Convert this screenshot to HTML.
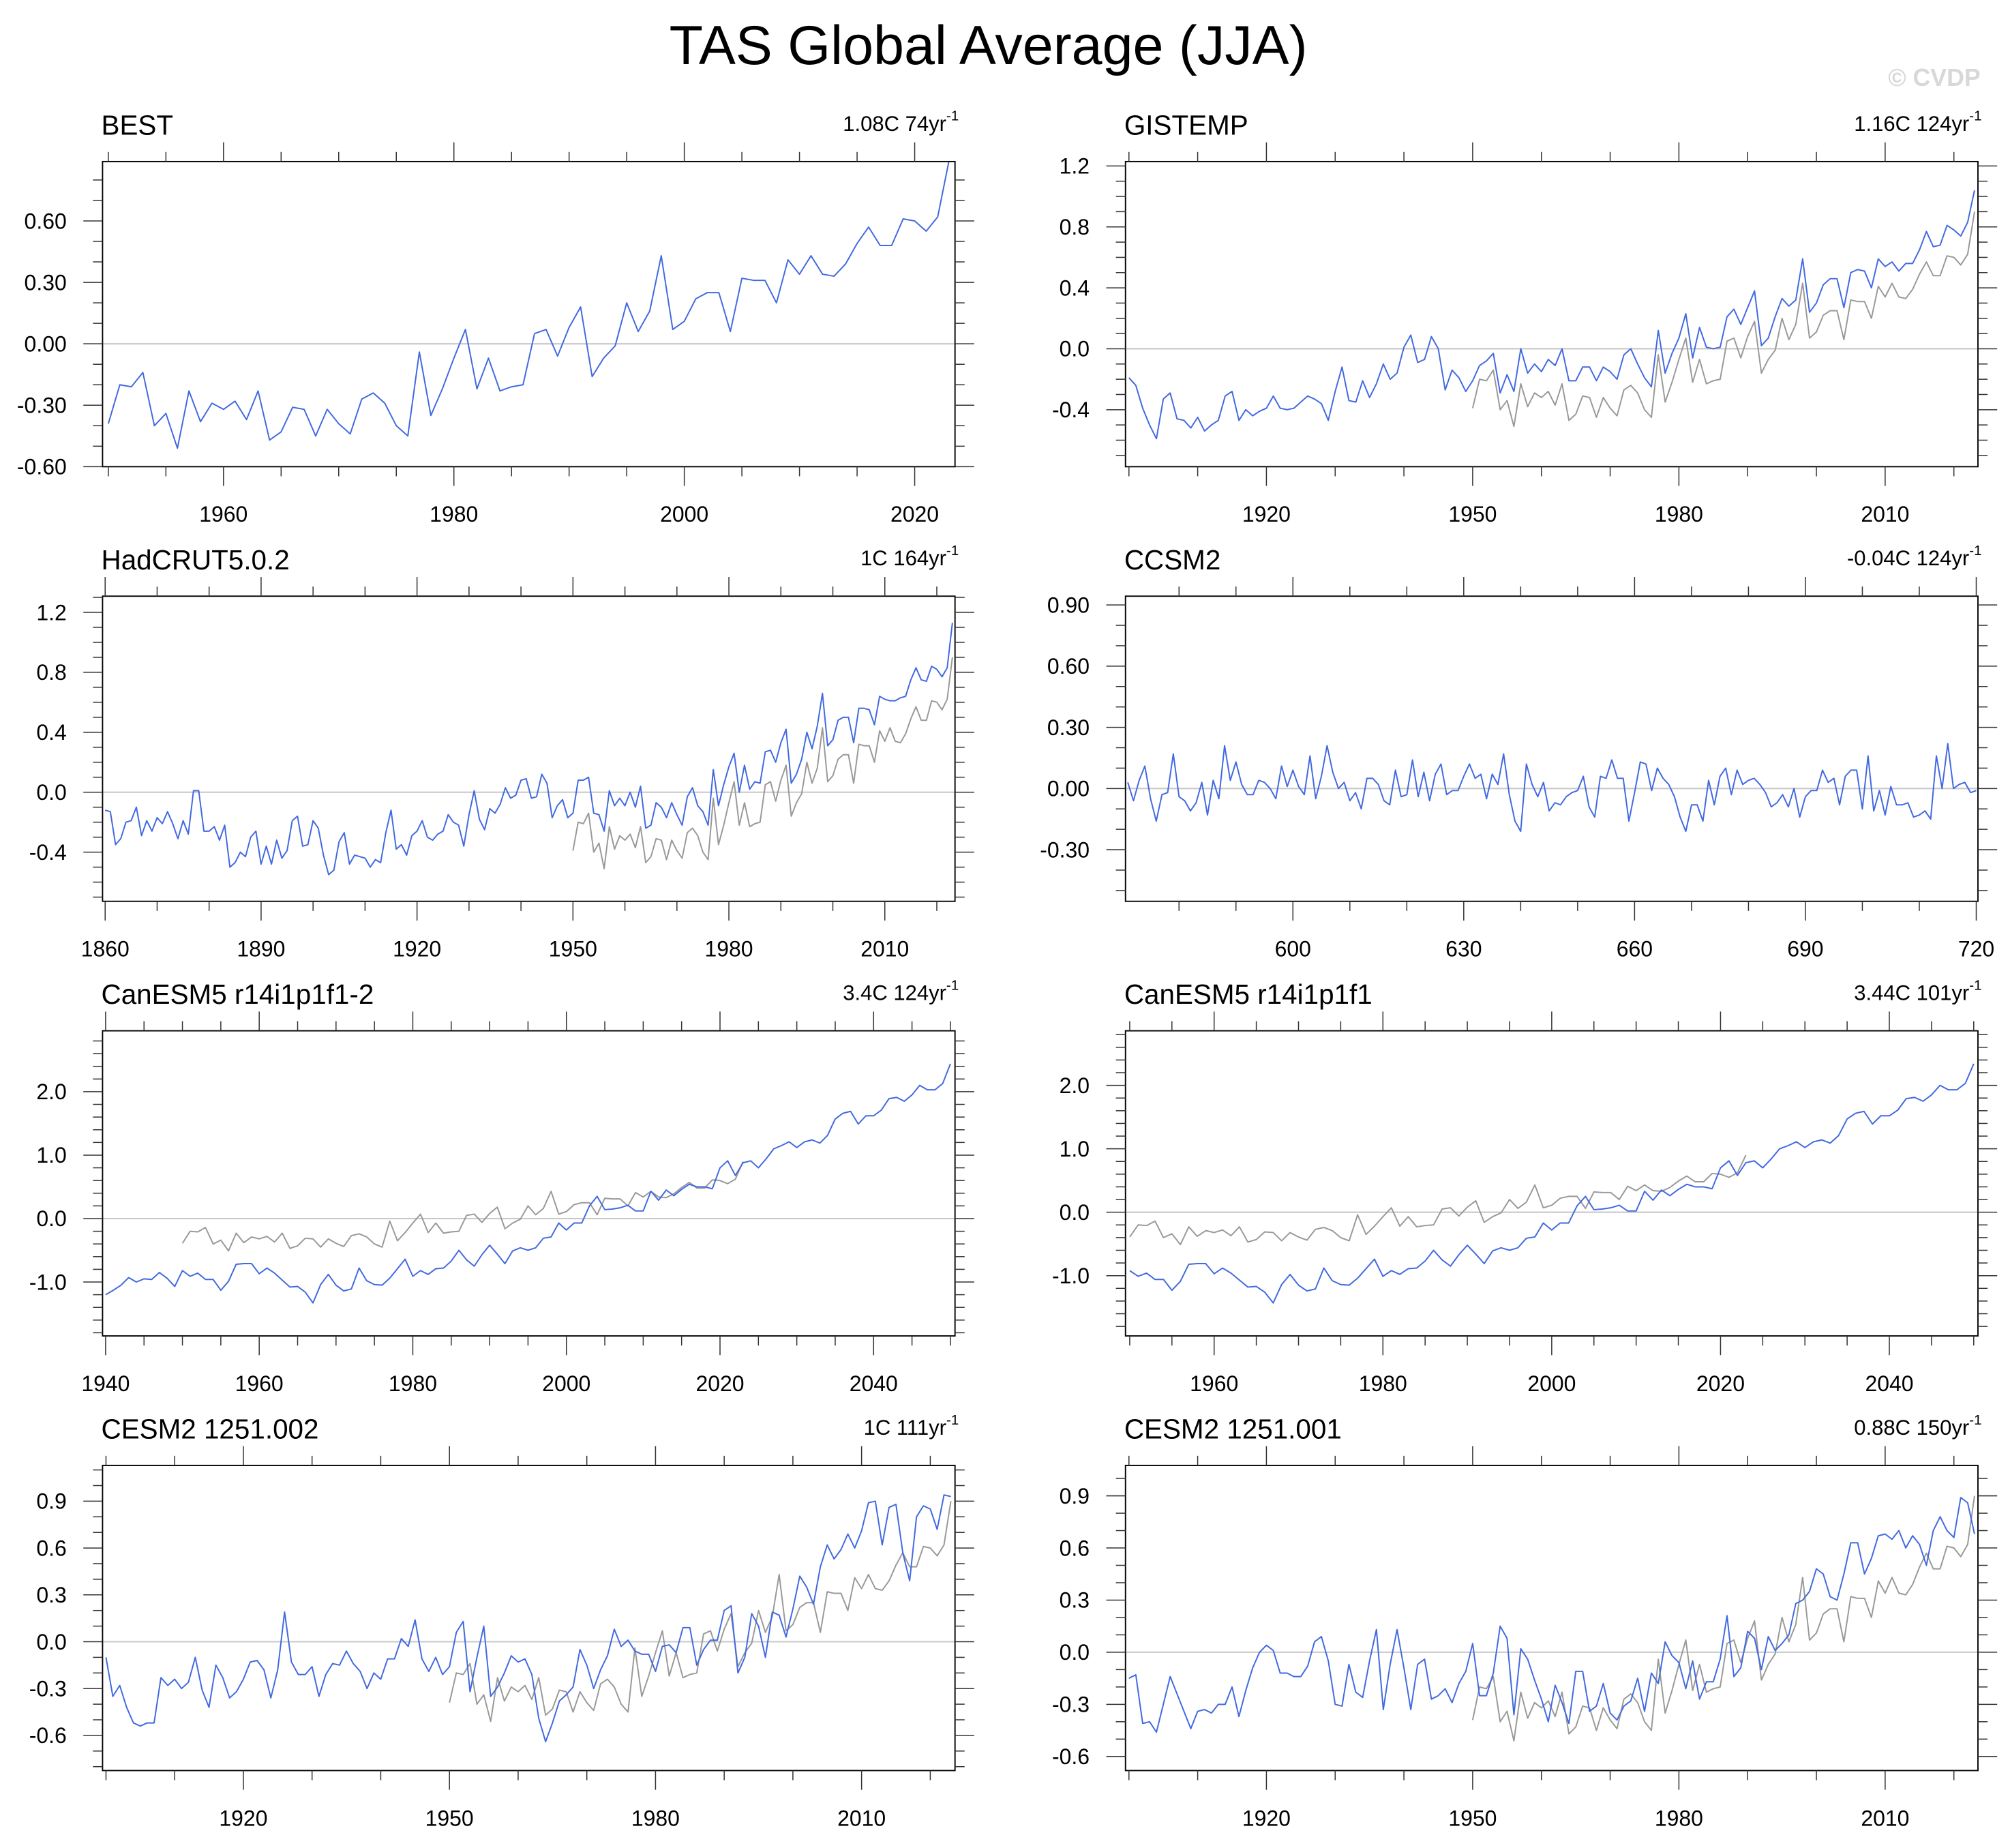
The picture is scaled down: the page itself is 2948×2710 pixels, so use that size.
<!DOCTYPE html>
<html><head><meta charset="utf-8"><title>TAS Global Average (JJA)</title>
<style>
html,body{margin:0;padding:0;background:#fff;}
svg{display:block;font-family:"Liberation Sans",Arial,sans-serif;}
</style></head>
<body>
<svg id="chart" xmlns="http://www.w3.org/2000/svg" width="2948" height="2710" viewBox="0 0 1568 1441.4">
<rect x="0" y="0" width="1568" height="1441.4" fill="#fff"/>
<text x="771" y="50" text-anchor="middle" font-size="43" fill="#000">TAS Global Average (JJA)</text>
<text x="1545" y="67" text-anchor="end" font-size="19" font-weight="bold" fill="#d8d8d8">© CVDP</text>
</svg>
<script>
// ---- data ----
const bestStart = 1950;
const bestVals = [-0.39,-0.20,-0.21,-0.14,-0.40,-0.34,-0.51,-0.23,-0.38,-0.29,
-0.32,-0.28,-0.37,-0.23,-0.47,-0.43,-0.31,-0.32,-0.45,-0.32,
-0.39,-0.44,-0.27,-0.24,-0.29,-0.40,-0.45,-0.04,-0.35,-0.22,
-0.07,0.07,-0.22,-0.07,-0.23,-0.21,-0.20,0.05,0.07,-0.06,
0.08,0.18,-0.16,-0.07,-0.01,0.20,0.06,0.16,0.43,0.07,
0.11,0.22,0.25,0.25,0.06,0.32,0.31,0.31,0.20,0.41,
0.34,0.43,0.34,0.33,0.39,0.49,0.57,0.48,0.48,0.61,
0.60,0.55,0.62,0.90];

const gisStart = 1900;
const gisVals = [-0.19,-0.24,-0.39,-0.50,-0.59,-0.33,-0.29,-0.46,-0.47,-0.52,
-0.45,-0.54,-0.50,-0.47,-0.31,-0.28,-0.47,-0.40,-0.44,-0.41,
-0.39,-0.31,-0.39,-0.40,-0.39,-0.35,-0.31,-0.33,-0.36,-0.47,
-0.28,-0.12,-0.34,-0.35,-0.21,-0.32,-0.23,-0.10,-0.20,-0.16,
0.01,0.09,-0.09,-0.07,0.08,0.00,-0.27,-0.14,-0.19,-0.28,
-0.21,-0.11,-0.08,-0.03,-0.29,-0.17,-0.28,0.00,-0.16,-0.10,
-0.15,-0.07,-0.11,0.00,-0.21,-0.21,-0.12,-0.12,-0.21,-0.12,
-0.15,-0.20,-0.04,0.00,-0.10,-0.19,-0.25,0.12,-0.16,-0.03,
0.07,0.23,-0.06,0.14,0.01,0.00,0.01,0.21,0.26,0.16,
0.27,0.38,0.02,0.07,0.21,0.33,0.28,0.32,0.59,0.24,
0.30,0.42,0.46,0.46,0.27,0.50,0.52,0.51,0.40,0.59,
0.54,0.57,0.51,0.56,0.56,0.65,0.77,0.67,0.68,0.81,
0.78,0.74,0.83,1.04];

const hadStart = 1860;
const hadVals = [-0.12,-0.13,-0.35,-0.31,-0.20,-0.19,-0.10,-0.29,-0.19,-0.26,
-0.17,-0.21,-0.13,-0.21,-0.31,-0.19,-0.28,0.01,0.01,-0.26,
-0.26,-0.23,-0.32,-0.22,-0.50,-0.47,-0.40,-0.43,-0.30,-0.26,
-0.48,-0.36,-0.48,-0.32,-0.44,-0.39,-0.19,-0.16,-0.36,-0.35,
-0.19,-0.24,-0.42,-0.55,-0.52,-0.33,-0.27,-0.48,-0.42,-0.43,
-0.44,-0.50,-0.45,-0.47,-0.27,-0.12,-0.38,-0.35,-0.42,-0.29,
-0.26,-0.19,-0.30,-0.32,-0.28,-0.26,-0.15,-0.20,-0.22,-0.36,
-0.15,0.01,-0.18,-0.25,-0.11,-0.14,-0.08,0.03,-0.04,-0.02,
0.08,0.09,-0.04,-0.03,0.12,0.06,-0.17,-0.09,-0.05,-0.17,
-0.14,0.08,0.08,0.10,-0.14,-0.15,-0.26,0.01,-0.09,-0.04,
-0.09,0.00,-0.10,0.04,-0.24,-0.22,-0.07,-0.10,-0.17,-0.07,
-0.15,-0.22,-0.03,0.03,-0.09,-0.13,-0.22,0.15,-0.09,0.05,
0.17,0.26,0.00,0.18,0.02,0.07,0.06,0.27,0.28,0.20,
0.33,0.42,0.06,0.12,0.22,0.40,0.29,0.44,0.66,0.31,
0.35,0.48,0.50,0.50,0.33,0.56,0.56,0.55,0.45,0.64,
0.62,0.61,0.61,0.63,0.64,0.75,0.83,0.75,0.74,0.84,
0.82,0.77,0.83,1.13];

const ccsmStart = 571;
const ccsmVals = [0.03,-0.06,0.04,0.11,-0.05,-0.16,-0.03,-0.02,0.17,-0.04,
-0.06,-0.11,-0.07,0.03,-0.13,0.04,-0.05,0.21,0.04,0.13,
0.02,-0.03,-0.03,0.04,0.03,0.00,-0.05,0.11,0.01,0.09,
0.01,-0.03,0.16,-0.05,0.06,0.21,0.08,0.00,0.03,-0.06,
-0.02,-0.10,0.05,0.05,0.02,-0.06,-0.08,0.09,-0.04,-0.03,
0.14,-0.04,0.08,-0.06,0.07,0.12,-0.03,-0.01,-0.01,0.06,
0.12,0.05,0.07,-0.05,0.07,0.02,0.17,-0.03,-0.16,-0.21,
0.12,0.02,-0.04,0.03,-0.11,-0.07,-0.08,-0.04,-0.02,-0.01,
0.06,-0.09,-0.14,0.06,0.05,0.14,0.05,0.05,-0.16,-0.02,
0.13,0.12,-0.01,0.10,0.05,0.02,-0.04,-0.14,-0.21,-0.08,
-0.08,-0.16,0.04,-0.08,0.06,0.10,-0.03,0.09,0.02,0.04,
0.05,0.02,-0.02,-0.09,-0.07,-0.03,-0.09,0.00,-0.14,-0.04,
-0.01,-0.01,0.09,0.03,0.05,-0.08,0.06,0.09,0.09,-0.10,
0.16,-0.11,-0.01,-0.13,0.01,-0.08,-0.08,-0.07,-0.14,-0.13,
-0.11,-0.15,0.16,0.00,0.22,0.00,0.02,0.03,-0.02,-0.01];

const can2Start = 1940;
const can2Vals = [-1.20,-1.13,-1.05,-0.93,-1.00,-0.95,-0.96,-0.85,-0.94,-1.07,
-0.82,-0.91,-0.86,-0.96,-0.96,-1.13,-0.99,-0.72,-0.71,-0.71,
-0.87,-0.78,-0.86,-0.97,-1.08,-1.07,-1.16,-1.33,-1.04,-0.88,
-1.05,-1.14,-1.11,-0.78,-0.98,-1.04,-1.05,-0.94,-0.79,-0.64,
-0.91,-0.82,-0.88,-0.79,-0.78,-0.67,-0.50,-0.65,-0.75,-0.57,
-0.42,-0.56,-0.71,-0.51,-0.46,-0.50,-0.46,-0.31,-0.29,-0.07,
-0.18,-0.07,-0.07,0.20,0.35,0.14,0.15,0.17,0.21,0.12,
0.12,0.43,0.29,0.45,0.36,0.46,0.54,0.50,0.50,0.47,
0.80,0.91,0.68,0.88,0.91,0.80,0.94,1.10,1.15,1.21,
1.12,1.21,1.24,1.19,1.31,1.57,1.66,1.69,1.49,1.62,
1.62,1.71,1.89,1.91,1.85,1.95,2.10,2.03,2.03,2.13,
2.44];

const can1Start = 1950;
const can1Vals = [-0.92,-1.01,-0.96,-1.06,-1.06,-1.23,-1.09,-0.82,-0.81,-0.81,
-0.97,-0.88,-0.96,-1.07,-1.18,-1.17,-1.26,-1.43,-1.14,-0.98,
-1.15,-1.24,-1.21,-0.88,-1.08,-1.14,-1.15,-1.04,-0.89,-0.74,
-1.01,-0.92,-0.98,-0.89,-0.88,-0.77,-0.60,-0.75,-0.85,-0.67,
-0.52,-0.66,-0.81,-0.61,-0.56,-0.60,-0.56,-0.41,-0.39,-0.17,
-0.28,-0.17,-0.17,0.10,0.25,0.04,0.05,0.07,0.11,0.02,
0.02,0.33,0.19,0.35,0.26,0.36,0.44,0.40,0.40,0.37,
0.70,0.81,0.58,0.78,0.81,0.70,0.84,1.00,1.05,1.11,
1.02,1.11,1.14,1.09,1.21,1.47,1.56,1.59,1.39,1.52,
1.52,1.61,1.79,1.81,1.75,1.85,2.00,1.93,1.93,2.03,
2.34];

const cesm002Start = 1900;
const cesm002Vals = [-0.10,-0.35,-0.28,-0.42,-0.52,-0.54,-0.52,-0.52,-0.23,-0.28,
-0.24,-0.30,-0.26,-0.10,-0.31,-0.42,-0.15,-0.23,-0.36,-0.32,
-0.24,-0.13,-0.12,-0.18,-0.36,-0.18,0.19,-0.13,-0.21,-0.21,
-0.16,-0.35,-0.21,-0.14,-0.15,-0.06,-0.14,-0.19,-0.30,-0.20,
-0.24,-0.11,-0.11,0.02,-0.03,0.14,-0.11,-0.19,-0.10,-0.21,
-0.16,0.06,0.13,-0.32,-0.10,0.10,-0.35,-0.29,-0.20,-0.09,
-0.13,-0.11,-0.21,-0.49,-0.64,-0.52,-0.38,-0.34,-0.29,-0.05,
-0.15,-0.30,-0.18,-0.09,0.08,-0.03,0.01,-0.06,-0.08,-0.08,
-0.19,-0.03,-0.02,-0.07,0.09,0.09,-0.15,-0.05,0.01,0.01,
0.20,0.23,-0.20,-0.10,0.18,0.10,-0.10,0.19,0.17,0.03,
0.21,0.42,0.35,0.24,0.48,0.62,0.53,0.59,0.69,0.60,
0.71,0.89,0.90,0.62,0.86,0.88,0.57,0.39,0.80,0.87,
0.85,0.72,0.94,0.93];

const cesm001Start = 1900;
const cesm001Vals = [-0.15,-0.13,-0.41,-0.40,-0.46,-0.30,-0.14,-0.24,-0.34,-0.44,
-0.34,-0.33,-0.35,-0.30,-0.30,-0.20,-0.37,-0.22,-0.09,0.00,
0.04,0.01,-0.12,-0.12,-0.14,-0.14,-0.08,0.06,0.09,-0.05,
-0.30,-0.31,-0.07,-0.23,-0.26,-0.05,0.13,-0.33,-0.07,0.13,
-0.09,-0.33,-0.07,-0.04,-0.27,-0.25,-0.21,-0.29,-0.18,-0.11,
0.05,-0.25,-0.25,-0.12,0.15,0.08,-0.36,0.02,-0.04,-0.16,
-0.27,-0.40,-0.19,-0.29,-0.41,-0.11,-0.11,-0.34,-0.31,-0.18,
-0.35,-0.39,-0.31,-0.28,-0.15,-0.34,-0.12,-0.18,0.06,-0.02,
-0.06,-0.21,-0.05,-0.27,-0.17,-0.17,-0.04,0.21,-0.14,-0.09,
0.12,0.08,-0.10,0.09,0.01,0.05,0.10,0.28,0.30,0.35,
0.48,0.45,0.32,0.30,0.45,0.63,0.63,0.45,0.54,0.67,
0.68,0.65,0.70,0.60,0.67,0.62,0.50,0.70,0.78,0.70,
0.66,0.89,0.86,0.68];

const panelTitles = ["BEST","GISTEMP","HadCRUT5.0.2","CCSM2","CanESM5 r14i1p1f1-2","CanESM5 r14i1p1f1","CESM2 1251.002","CESM2 1251.001"];
const panelNotes = ["1.08C 74yr","1.16C 124yr","1C 164yr","-0.04C 124yr","3.4C 124yr","3.44C 101yr","1C 111yr","0.88C 150yr"];

// ---- layout ----
const NS = "http://www.w3.org/2000/svg";
const svg = document.getElementById('chart');
const COLX = [[80,745],[878,1543]];
const ROWY = [[126,364],[465,703],[804,1042],[1143,1381]];
const BLUE = "#4169e1", GRAY = "#999999";

const panels = [
 {r:0,c:0,xmin:1949.5,xmax:2023.5,ymin:-0.6,ymax:0.89,xMaj:20,xMajBase:1960,xMin:5,yMaj:0.3,yMin:0.1,dec:2,
  series:[{s:bestStart,v:bestVals,col:BLUE}]},
 {r:0,c:1,xmin:1899.5,xmax:2023.5,ymin:-0.774,ymax:1.229,xMaj:30,xMajBase:1920,xMin:10,yMaj:0.4,yMin:0.1,dec:1,
  series:[{s:bestStart,v:bestVals,col:GRAY},{s:gisStart,v:gisVals,col:BLUE}]},
 {r:1,c:0,xmin:1859.5,xmax:2023.5,ymin:-0.728,ymax:1.308,xMaj:30,xMajBase:1860,xMin:10,yMaj:0.4,yMin:0.1,dec:1,
  series:[{s:bestStart,v:bestVals,col:GRAY},{s:hadStart,v:hadVals,col:BLUE}]},
 {r:1,c:1,xmin:570.6,xmax:720.3,ymin:-0.553,ymax:0.943,xMaj:30,xMajBase:600,xMin:10,yMaj:0.3,yMin:0.1,dec:2,
  series:[{s:ccsmStart,v:ccsmVals,col:BLUE}]},
 {r:2,c:0,xmin:1939.6,xmax:2050.6,ymin:-1.85,ymax:2.96,xMaj:20,xMajBase:1940,xMin:5,yMaj:1.0,yMin:0.2,dec:1,
  series:[{s:bestStart,v:bestVals,col:GRAY},{s:can2Start,v:can2Vals,col:BLUE}]},
 {r:2,c:1,xmin:1949.5,xmax:2050.5,ymin:-1.95,ymax:2.86,xMaj:20,xMajBase:1960,xMin:5,yMaj:1.0,yMin:0.2,dec:1,
  series:[{s:bestStart,v:bestVals,col:GRAY},{s:can1Start,v:can1Vals,col:BLUE}]},
 {r:3,c:0,xmin:1899.5,xmax:2023.6,ymin:-0.825,ymax:1.129,xMaj:30,xMajBase:1920,xMin:10,yMaj:0.3,yMin:0.1,dec:1,
  series:[{s:bestStart,v:bestVals,col:GRAY},{s:cesm002Start,v:cesm002Vals,col:BLUE}]},
 {r:3,c:1,xmin:1899.5,xmax:2023.5,ymin:-0.681,ymax:1.075,xMaj:30,xMajBase:1920,xMin:10,yMaj:0.3,yMin:0.1,dec:1,
  series:[{s:bestStart,v:bestVals,col:GRAY},{s:cesm001Start,v:cesm001Vals,col:BLUE}]}
];

function mk(tag, attrs, parent){
  const e = document.createElementNS(NS, tag);
  for (const k in attrs) e.setAttribute(k, attrs[k]);
  (parent||svg).appendChild(e);
  return e;
}
function ticks(min,max,step){
  const out=[]; const k0=Math.ceil(min/step-1e-6), k1=Math.floor(max/step+1e-6);
  for(let k=k0;k<=k1;k++) out.push(+(k*step).toFixed(6));
  return out;
}

panels.forEach((p,i)=>{
  const [x0,x1]=COLX[p.c], [y0,y1]=ROWY[p.r];
  const X = v => x0 + (v-p.xmin)/(p.xmax-p.xmin)*(x1-x0);
  const Y = v => y1 - (v-p.ymin)/(p.ymax-p.ymin)*(y1-y0);
  const g = mk('g',{});
  
  

  // title
  const t = mk('text',{x:x0-1,y:y0-21,'font-size':21.5,fill:'#000'},g);
  t.textContent = panelTitles[i];
  
  
  const n = mk('text',{x:x1+3,y:y0-24,'font-size':16.5,'text-anchor':'end',fill:'#000'},g);
  
  
  n.appendChild(document.createTextNode(panelNotes[i]));
  const sup = mk('tspan',{'font-size':11,dy:-8},n);
  sup.textContent='-1';

  // clip
  const cp = mk('clipPath',{id:'cp'+i},g);
  mk('rect',{x:x0,y:y0,width:x1-x0,height:y1-y0},cp);

  // zero line
  const z = mk('line',{x1:x0,x2:x1,y1:Y(0),y2:Y(0),stroke:'#c8c8c8','stroke-width':1.1},g);
  
  

  // series
  p.series.forEach(s=>{
    const pts = s.v.map((v,j)=>X(s.s+j).toFixed(2)+','+Y(v).toFixed(2)).join(' ');
    const pl = mk('polyline',{points:pts,fill:'none',stroke:s.col,'stroke-width':1.05,'stroke-linejoin':'round','clip-path':'url(#cp'+i+')'},g);
    
    
  });

  // frame
  const fr = mk('rect',{x:x0,y:y0,width:x1-x0,height:y1-y0,fill:'none',stroke:'#000','stroke-width':1},g);
  
  

  // x ticks
  const tc='#333';
  ticks(p.xmin,p.xmax,p.xMin).forEach(v=>{
    const maj = ((v - p.xMajBase) % p.xMaj + p.xMaj) % p.xMaj === 0;
    const L = maj?15:7.5;
    mk('line',{x1:X(v),x2:X(v),y1:y0,y2:y0-L,stroke:tc,'stroke-width':0.8},g);
    mk('line',{x1:X(v),x2:X(v),y1:y1,y2:y1+L,stroke:tc,'stroke-width':0.8},g);
    if(maj){
      const lb = mk('text',{x:X(v),y:y1+43,'font-size':17,'text-anchor':'middle',fill:'#000'},g);
      lb.textContent = String(v);
      
      
    }
  });
  // y ticks
  ticks(p.ymin,p.ymax,p.yMin).forEach(v=>{
    const r = v/p.yMaj; const maj = Math.abs(r-Math.round(r))<1e-6;
    const L = maj?15:7.5;
    mk('line',{x1:x0,x2:x0-L,y1:Y(v),y2:Y(v),stroke:tc,'stroke-width':0.8},g);
    mk('line',{x1:x1,x2:x1+L,y1:Y(v),y2:Y(v),stroke:tc,'stroke-width':0.8},g);
    if(maj){
      const vv = Math.abs(v)<1e-9?0:v;
      const lb = mk('text',{x:x0-28,y:Y(v)+6,'font-size':17,'text-anchor':'end',fill:'#000'},g);
      lb.textContent = vv.toFixed(p.dec);
      
      
    }
  });
});
</script>
</body></html>
